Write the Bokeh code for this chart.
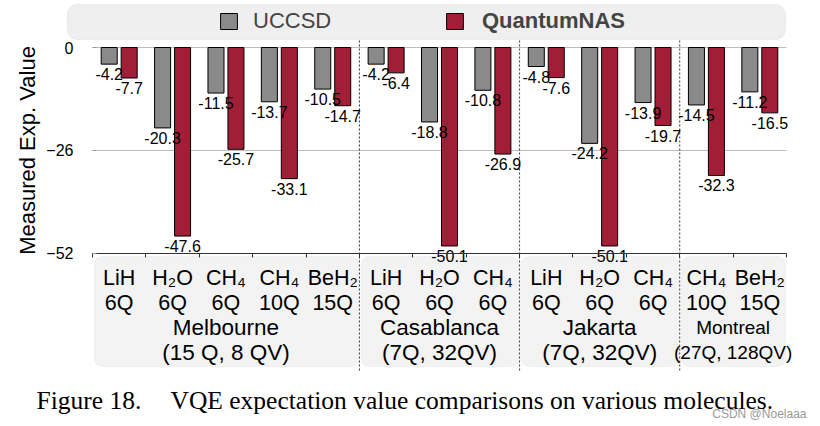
from bokeh.plotting import figure
from bokeh.models import (ColumnDataSource, FixedTicker, LinearAxis, Range1d,
                          BoxAnnotation, Legend, LegendItem)
from bokeh.core.properties import value
from bokeh.embed import file_html
from bokeh.resources import INLINE

# ---------------- data ----------------
molecules = ["LiH", "H₂O", "CH₄", "CH₄", "BeH₂",
             "LiH", "H₂O", "CH₄",
             "LiH", "H₂O", "CH₄",
             "CH₄", "BeH₂"]
qubits = ["6Q", "6Q", "6Q", "10Q", "15Q",
          "6Q", "6Q", "6Q",
          "6Q", "6Q", "6Q",
          "10Q", "15Q"]
uccsd = [-4.2, -20.3, -11.5, -13.7, -10.5,
         -4.2, -18.8, -10.8,
         -4.8, -24.2, -13.9,
         -14.5, -11.2]
quantumnas = [-7.7, -47.6, -25.7, -33.1, -14.7,
              -6.4, -50.1, -26.9,
              -7.6, -50.1, -19.7,
              -32.3, -16.5]
devices = ["Melbourne", "Casablanca", "Jakarta", "Montreal"]
device_specs = ["(15 Q, 8 QV)", "(7Q, 32QV)", "(7Q, 32QV)", "(27Q, 128QV)"]
device_sizes = [5, 3, 3, 2]
y_ticks = [0, -26, -52]
grid_values = [0, -26]
series_names = ["UCCSD", "QuantumNAS"]

# ---------------- layout helpers (pixel -> data) ----------------
W, H = 820, 426
PX0, GW = 92.0, 53.385          # left edge of plot, pixels per category
PY0, PPU = 47.0, 3.9615          # y pixel of value 0, pixels per unit


def dx(px):
    return (px - PX0) / GW


def dy(py):
    return -(py - PY0) / PPU


FONT = "Liberation Sans"
GRAY = "#8a8a8a"
RED = "#a01f37"

p = figure(width=W, height=H,
           x_range=Range1d(dx(0), dx(W)), y_range=Range1d(dy(H), dy(0)),
           x_axis_type=None, y_axis_type=None,
           output_backend="svg", toolbar_location=None,
           min_border=0, outline_line_color=None)
p.background_fill_color = "white"
p.border_fill_color = "white"

n = len(molecules)
centers = [i + 0.5 for i in range(n)]
off, bw = 0.187, 0.30

# device groups
bounds = [0]
for s in device_sizes:
    bounds.append(bounds[-1] + s)

# panels under the axis
for k in range(len(devices)):
    p.add_layout(BoxAnnotation(left=bounds[k] + 0.035, right=bounds[k + 1] - 0.02,
                               top=dy(256), bottom=dy(366),
                               fill_color="#f3f3f3", fill_alpha=1.0,
                               line_color="#dcdcdc", line_width=1,
                               border_radius=8, level="underlay"))

# legend box
p.add_layout(BoxAnnotation(left=dx(67), right=dx(785), top=dy(4), bottom=dy(39),
                           fill_color="#efefef", fill_alpha=1.0,
                           line_color="#cfcfcf", line_width=1.2,
                           border_radius=10, level="underlay"))

# grid lines
p.segment(x0=[0] * len(grid_values), x1=[n] * len(grid_values),
          y0=grid_values, y1=grid_values, line_color="#bdbdbd", line_width=1)

# separators
seps = bounds[1:-1]
p.segment(x0=seps, x1=seps, y0=[dy(40)] * len(seps), y1=[dy(370)] * len(seps),
          line_color="#333333", line_width=1, line_dash="2 2")

src = ColumnDataSource(dict(
    xg=[c - off for c in centers], xr=[c + off for c in centers],
    u=uccsd, q=quantumnas,
    ul=[f"{v:.1f}" for v in uccsd], ql=[f"{v:.1f}" for v in quantumnas],
))

rg = p.vbar(x="xg", width=bw, top="u", bottom=0, source=src,
            fill_color=GRAY, line_color="black", line_width=1)
rr = p.vbar(x="xr", width=bw, top="q", bottom=0, source=src,
            fill_color=RED, line_color="black", line_width=1)

p.text(x="xg", y="u", text="ul", source=src, text_align="center",
       text_baseline="top", y_offset=4, text_font=value(FONT),
       text_font_size="16px", text_color="black")
p.text(x="xr", y="q", text="ql", source=src, text_align="center",
       text_baseline="top", y_offset=4, text_font=value(FONT),
       text_font_size="16px", text_color="black")

# axes
yaxis = LinearAxis(fixed_location=0, ticker=FixedTicker(ticks=y_ticks),
                   bounds=(-52, 0), axis_line_color=None,
                   major_tick_in=4, major_tick_out=0,
                   major_tick_line_color="#999999", minor_tick_line_color=None,
                   major_label_text_font=FONT, major_label_text_font_size="16px",
                   major_label_text_color="black",
                   major_label_standoff=19,
                   axis_label="Measured Exp. Value",
                   axis_label_text_font=FONT, axis_label_text_font_size="22px",
                   axis_label_text_color="black",
                   axis_label_text_font_style="normal", axis_label_standoff=3)
p.add_layout(yaxis, "left")

xaxis = LinearAxis(fixed_location=-52, ticker=FixedTicker(ticks=list(range(n + 1))),
                   bounds=(0, n), axis_line_color="#333333", axis_line_width=1.2,
                   major_tick_in=0, major_tick_out=4,
                   major_tick_line_color="#333333", minor_tick_line_color=None,
                   major_label_text_color=None)
p.add_layout(xaxis, "below")

# category labels
p.text(x=centers, y=[dy(277)] * n, text=molecules, text_align="center",
       text_baseline="middle", text_font=value(FONT), text_font_size="21.5px")
p.text(x=centers, y=[dy(302)] * n, text=qubits, text_align="center",
       text_baseline="middle", text_font=value(FONT), text_font_size="21.5px")

dev_x = [(bounds[k] + bounds[k + 1]) / 2 for k in range(len(devices))]
dev_sizes_px = ["22.5px", "22.5px", "22.5px", "19px"]
for k in range(len(devices)):
    p.text(x=[dev_x[k]], y=[dy(327)], text=[devices[k]], text_align="center",
           text_baseline="middle", text_font=value(FONT),
           text_font_size=dev_sizes_px[k])
    p.text(x=[dev_x[k]], y=[dy(352)], text=[device_specs[k]], text_align="center",
           text_baseline="middle", text_font=value(FONT),
           text_font_size=dev_sizes_px[k])

# caption
p.text(x=[dx(36)], y=[dy(400)], text=["Figure 18."], text_align="left",
       text_baseline="alphabetic", text_font=value("Liberation Serif"),
       text_font_size="25.5px", text_color="black")
p.text(x=[dx(170)], y=[dy(400)],
       text=["VQE expectation value comparisons on various molecules."],
       text_align="left", text_baseline="alphabetic",
       text_font=value("Liberation Serif"), text_font_size="25.5px",
       text_color="black")
p.text(x=[dx(806)], y=[dy(413)], text=["CSDN @Noelaaa"], text_align="right",
       text_baseline="middle", text_font=value(FONT), text_font_size="12px",
       text_color="#9a9a9a")

# legends
leg1 = Legend(items=[LegendItem(label=series_names[0], renderers=[rg])],
              location=(218, H - 34), orientation="horizontal",
              padding=0, margin=0, border_line_color=None,
              background_fill_alpha=0, glyph_width=21, glyph_height=20,
              label_standoff=14, label_height=20,
              label_text_font=FONT, label_text_font_size="22px")
leg2 = Legend(items=[LegendItem(label=series_names[1], renderers=[rr])],
              location=(444, H - 34), orientation="horizontal",
              padding=0, margin=0, border_line_color=None,
              background_fill_alpha=0, glyph_width=21, glyph_height=20,
              label_standoff=17, label_height=20,
              label_text_font=FONT, label_text_font_size="22px",
              label_text_font_style="bold")
p.add_layout(leg1)
p.add_layout(leg2)

open("out.html", "w").write(file_html(p, INLINE))
